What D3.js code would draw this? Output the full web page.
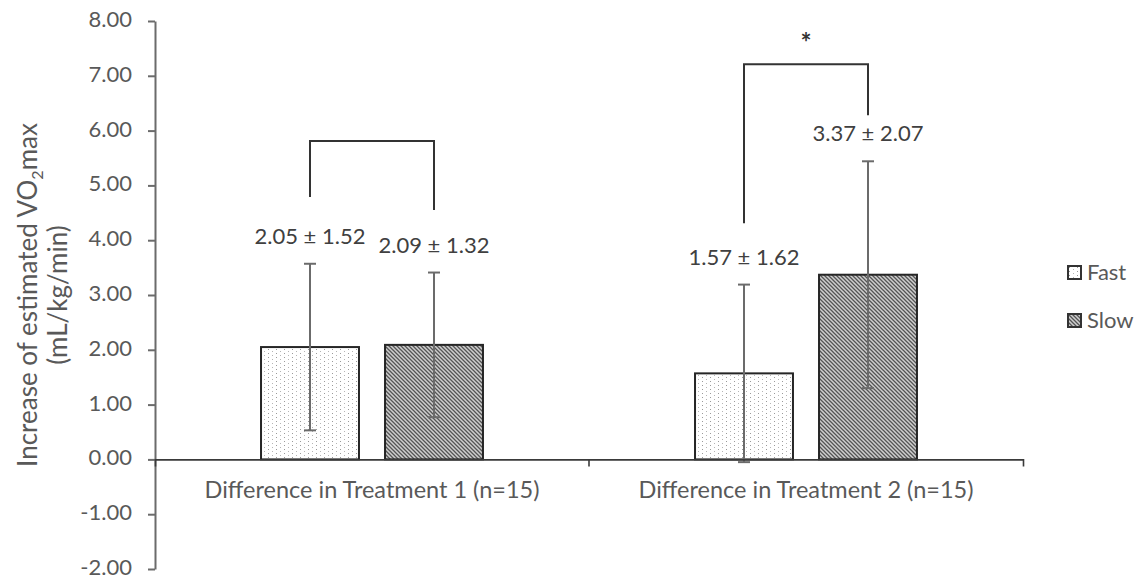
<!DOCTYPE html>
<html>
<head>
<meta charset="utf-8">
<script src="https://cdn.jsdelivr.net/npm/d3@7"></script>
<style>
  body { margin: 0; background: #fff; }
  text { font-family: Lato, "Open Sans", sans-serif; }
</style>
</head>
<body>
<script>
var categories = ['Difference in Treatment 1 (n=15)', 'Difference in Treatment 2 (n=15)'];
var series = ['Fast', 'Slow'];
var means = {Fast: [2.05, 1.57], Slow: [2.09, 3.37]};
var sds = {Fast: [1.52, 1.62], Slow: [1.32, 2.07]};
var yTicks = [-2, -1, 0, 1, 2, 3, 4, 5, 6, 7, 8];
// comparison brackets, in data units
var brackets = [
  {cat: 0, top: 5.81, leftEnd: 4.79, rightEnd: 4.55, mark: ''},
  {cat: 1, top: 7.21, leftEnd: 4.31, rightEnd: 6.28, mark: '*'}
];

var width = 1139, height = 579;
var plot = {left: 155, right: 1023, top: 21, bottom: 569};
var textColor = '#595959';

var svg = d3.select('body').append('svg')
  .attr('width', width)
  .attr('height', height);

var defs = svg.append('defs');

// dotted fill for Fast
var dots = defs.append('pattern')
  .attr('id', 'dots')
  .attr('patternUnits', 'userSpaceOnUse')
  .attr('width', 8).attr('height', 4);
dots.append('rect').attr('width', 8).attr('height', 4).attr('fill', '#fff');
dots.append('rect').attr('x', 1).attr('y', 1).attr('width', 1).attr('height', 1).attr('fill', '#9a9a9a');
dots.append('rect').attr('x', 5).attr('y', 3).attr('width', 1).attr('height', 1).attr('fill', '#b5b5b5');

// downward diagonal fill for Slow
var diag = defs.append('pattern')
  .attr('id', 'diag')
  .attr('patternUnits', 'userSpaceOnUse')
  .attr('width', 4).attr('height', 4);
diag.append('rect').attr('width', 4).attr('height', 4).attr('fill', '#cfcfcf');
diag.append('path')
  .attr('d', 'M-1,-1L5,5M-1,3L1,5M3,-1L5,1')
  .attr('stroke', '#555').attr('stroke-width', 1.3);

var fills = {Fast: 'url(#dots)', Slow: 'url(#diag)'};

var y = d3.scaleLinear()
  .domain([d3.min(yTicks), d3.max(yTicks)])
  .range([plot.bottom, plot.top]);

var x0 = d3.scaleBand()
  .domain(categories)
  .range([plot.left, plot.right]);

var x1 = d3.scaleBand()
  .domain(series)
  .range([0, x0.bandwidth()])
  .paddingInner(0.21)
  .paddingOuter(0.855);

// y axis
var yAxis = svg.append('g')
  .attr('transform', `translate(${plot.left},0)`)
  .call(d3.axisLeft(y).tickValues(yTicks).tickSizeInner(7).tickSizeOuter(0).tickPadding(16)
    .tickFormat(d => d.toFixed(2)));
yAxis.select('.domain').attr('stroke', '#6b6b6b').attr('stroke-width', 2);
yAxis.selectAll('.tick line').attr('stroke', '#6b6b6b').attr('stroke-width', 2);
yAxis.selectAll('.tick text').attr('fill', textColor).attr('dy', '0.25em').style('font-size', '22px');

// y axis title
var title = svg.append('text')
  .attr('transform', `translate(0,${(plot.top + plot.bottom) / 2}) rotate(-90)`)
  .attr('text-anchor', 'middle')
  .attr('fill', textColor)
  .style('font-size', '26px');
var t1 = title.append('tspan').attr('x', 0).attr('y', 37);
t1.append('tspan').text('Increase of estimated VO');
t1.append('tspan').text('2').style('font-size', '16px').attr('dy', 6);
t1.append('tspan').text('max').attr('dy', -6);
title.append('tspan').attr('x', 0).attr('y', 67).text('(mL/kg/min)');

// bars
var groups = svg.selectAll('.cat')
  .data(categories)
  .enter().append('g')
  .attr('class', 'cat')
  .attr('transform', d => `translate(${x0(d)},0)`);

var barData = (c, i) => series.map(s => ({s: s, mean: means[s][i], sd: sds[s][i]}));

groups.selectAll('rect.bar')
  .data(barData)
  .enter().append('rect')
  .attr('class', 'bar')
  .attr('x', d => x1(d.s))
  .attr('y', d => y(Math.max(0, d.mean)))
  .attr('width', x1.bandwidth())
  .attr('height', d => Math.abs(y(d.mean) - y(0)))
  .attr('fill', d => fills[d.s])
  .attr('stroke', '#262626')
  .attr('stroke-width', 2);

// x axis
var xAxis = svg.append('g')
  .attr('transform', `translate(0,${y(0)})`)
  .call(d3.axisBottom(x0).tickSizeInner(0).tickSizeOuter(7).tickPadding(22));
xAxis.select('.domain').attr('stroke', '#3a3a3a').attr('stroke-width', 1.6);
xAxis.selectAll('.tick text').attr('fill', textColor).style('font-size', '23.5px');
xAxis.selectAll('.mid')
  .data(categories.slice(1))
  .enter().append('line')
  .attr('class', 'mid')
  .attr('x1', d => x0(d)).attr('x2', d => x0(d))
  .attr('y1', 0).attr('y2', 7)
  .attr('stroke', '#3a3a3a').attr('stroke-width', 1.6);

// error bars
var err = groups.selectAll('g.err')
  .data(barData)
  .enter().append('g')
  .attr('class', 'err')
  .attr('transform', d => `translate(${x1(d.s) + x1.bandwidth() / 2},0)`)
  .attr('stroke', '#6b6b6b')
  .attr('stroke-width', 2);
err.append('line')
  .attr('y1', d => y(d.mean - d.sd)).attr('y2', d => y(d.mean + d.sd));
err.selectAll('line.cap')
  .data(d => [d.mean - d.sd, d.mean + d.sd])
  .enter().append('line')
  .attr('class', 'cap')
  .attr('x1', -6).attr('x2', 6)
  .attr('y1', v => y(v)).attr('y2', v => y(v));

// value labels
groups.selectAll('text.val')
  .data(barData)
  .enter().append('text')
  .attr('class', 'val')
  .attr('x', d => x1(d.s) + x1.bandwidth() / 2)
  .attr('y', d => y(d.mean + d.sd) - 20)
  .attr('text-anchor', 'middle')
  .attr('fill', '#404040')
  .style('font-size', '22px')
  .text(d => `${d.mean.toFixed(2)} ± ${d.sd.toFixed(2)}`);

// significance brackets
var cx = s => x1(s) + x1.bandwidth() / 2;
brackets.forEach(b => {
  var g = svg.append('g').attr('transform', `translate(${x0(categories[b.cat])},0)`);
  g.append('path')
    .attr('d', `M${cx('Fast')},${y(b.leftEnd)}V${y(b.top)}H${cx('Slow')}V${y(b.rightEnd)}`)
    .attr('fill', 'none')
    .attr('stroke', '#333')
    .attr('stroke-width', 2);
  if (b.mark) {
    g.append('text')
      .attr('x', (cx('Fast') + cx('Slow')) / 2)
      .attr('y', y(b.top) - 12)
      .attr('text-anchor', 'middle')
      .attr('fill', '#333')
      .style('font-size', '26px')
      .style('font-weight', 'bold')
      .text(b.mark);
  }
});

// legend
var legend = svg.append('g').attr('transform', 'translate(1068,266)');
var item = legend.selectAll('g')
  .data(series)
  .enter().append('g')
  .attr('transform', (d, i) => `translate(0,${i * 48})`);
item.append('rect')
  .attr('width', 13).attr('height', 13)
  .attr('fill', d => fills[d])
  .attr('stroke', '#333')
  .attr('stroke-width', 2);
item.append('text')
  .attr('x', 19).attr('y', 6.5)
  .attr('dy', '0.35em')
  .attr('fill', textColor)
  .style('font-size', '22px')
  .text(d => d);
</script>
</body>
</html>
